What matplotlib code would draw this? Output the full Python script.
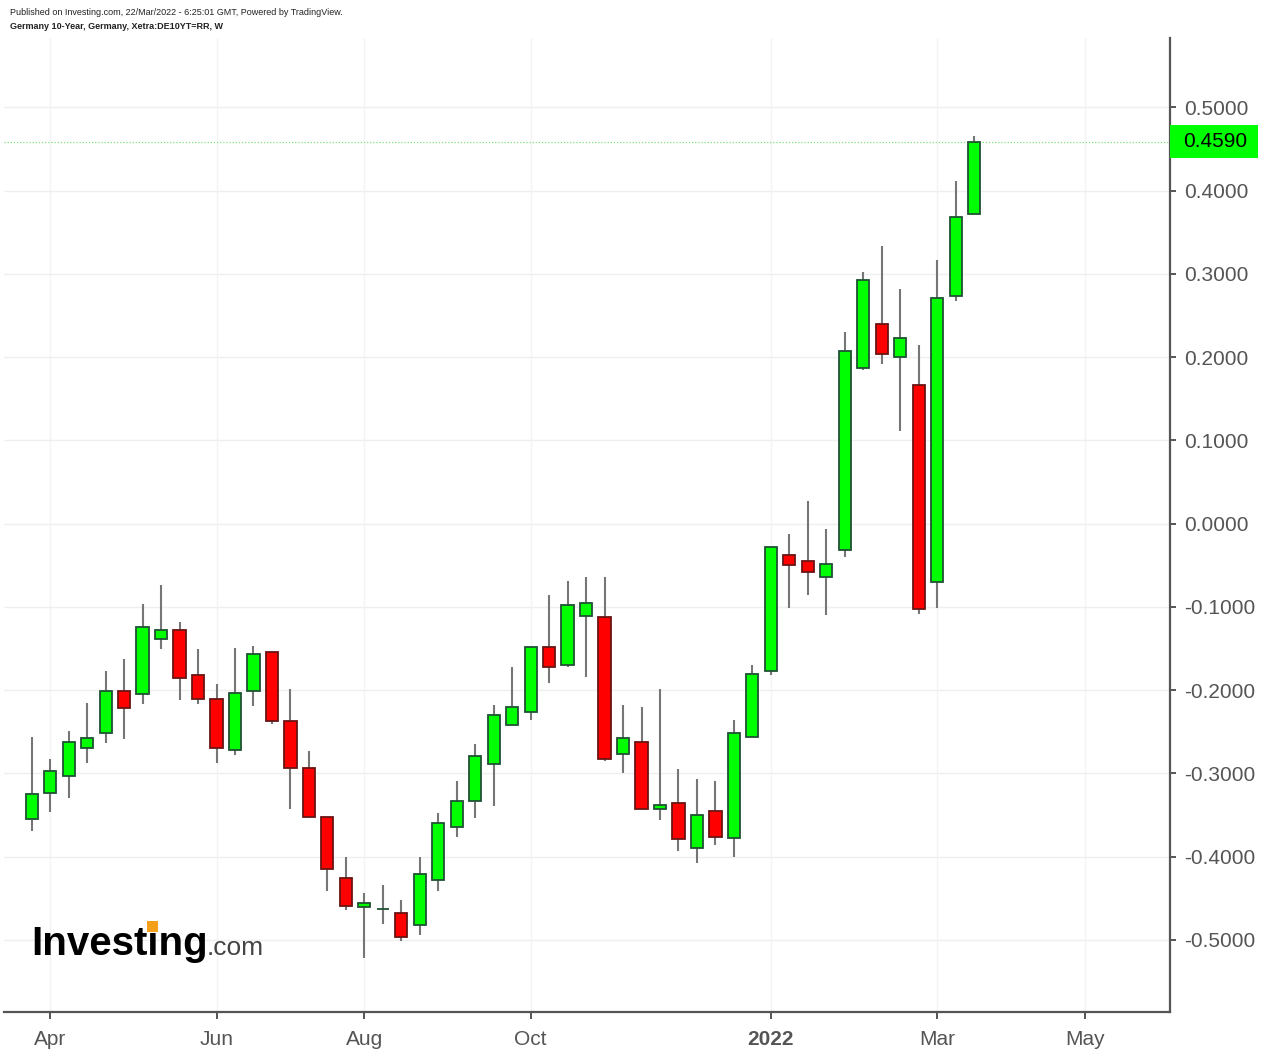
import matplotlib
matplotlib.use("Agg")
import matplotlib.pyplot as plt
import matplotlib.patches as patches
import matplotlib.transforms as mtransforms
import numpy as np
import pandas as pd

plt.rcParams["font.family"] = ["Liberation Sans", "DejaVu Sans"]

# weekly bars, Germany 10Y yield
start_week = "2021-03-29"
opens = [-0.3546, -0.3235, -0.303, -0.270, -0.251, -0.201, -0.204, -0.138, -0.128, -0.182,
         -0.211, -0.272, -0.201, -0.1546, -0.2366, -0.293, -0.3526, -0.4255, -0.4606, -0.4628,
         -0.467, -0.4825, -0.428, -0.3645, -0.3331, -0.2892, -0.2421, -0.2257, -0.1475, -0.1695,
         -0.1104, -0.1124, -0.2772, -0.2625, -0.3427, -0.3355, -0.3894, -0.3447, -0.3778, -0.2557,
         -0.1765, -0.0372, -0.0444, -0.0641, -0.0321, 0.1876, 0.2401, 0.2000, 0.1671, -0.0697,
         0.2733, 0.3719]
highs = [-0.256, -0.283, -0.249, -0.215, -0.1765, -0.163, -0.097, -0.074, -0.118, -0.151,
         -0.193, -0.149, -0.1466, -0.1546, -0.198, -0.273, -0.3526, -0.4008, -0.443, -0.4335,
         -0.452, -0.4008, -0.347, -0.309, -0.264, -0.2174, -0.1723, -0.1475, -0.0856, -0.0689,
         -0.064, -0.064, -0.2174, -0.2198, -0.1982, -0.2952, -0.3068, -0.3088, -0.2361, -0.1699,
         -0.0278, -0.0128, 0.0269, -0.0068, 0.2297, 0.3022, 0.3335, 0.2814, 0.2152, 0.3166,
         0.4112, 0.4661]
lows = [-0.369, -0.346, -0.329, -0.287, -0.263, -0.259, -0.217, -0.151, -0.212, -0.217,
        -0.287, -0.278, -0.219, -0.240, -0.343, -0.352, -0.4406, -0.4637, -0.522, -0.4805,
        -0.5016, -0.4944, -0.4406, -0.3765, -0.3535, -0.339, -0.2421, -0.2357, -0.191, -0.1727,
        -0.1838, -0.2848, -0.2992, -0.3431, -0.3555, -0.393, -0.4074, -0.3862, -0.4002, -0.2557,
        -0.1816, -0.1017, -0.0855, -0.1102, -0.0401, 0.1852, 0.192, 0.1114, -0.1082, -0.101,
        0.2677, 0.3719]
closes = [-0.325, -0.2976, -0.262, -0.257, -0.2008, -0.221, -0.1235, -0.128, -0.185, -0.211,
          -0.270, -0.2036, -0.157, -0.237, -0.2936, -0.352, -0.4143, -0.4586, -0.4554, -0.4622,
          -0.4964, -0.4207, -0.3598, -0.3335, -0.2792, -0.2297, -0.2206, -0.1475, -0.1719, -0.098,
          -0.0956, -0.2824, -0.2577, -0.3431, -0.3379, -0.3782, -0.3499, -0.3758, -0.2509, -0.1806,
          -0.0278, -0.0496, -0.0585, -0.0481, 0.2076, 0.2922, 0.2044, 0.2236, -0.103, 0.2709,
          0.3679, 0.4590]
last_price = 0.4590

tick_dates = ["2021-04-05", "2021-06-07", "2021-08-02", "2021-10-04",
              "2022-01-03", "2022-03-07", "2022-05-02"]
tick_labels = ["Apr", "Jun", "Aug", "Oct", "2022", "Mar", "May"]
y_ticks = [-0.5, -0.4, -0.3, -0.2, -0.1, 0.0, 0.1, 0.2, 0.3, 0.4, 0.5]

W, H = 1270, 1064
fig = plt.figure(figsize=(W / 100, H / 100), dpi=100)
ax = fig.add_axes([4 / W, (H - 1012) / H, (1170 - 4) / W, (1012 - 38) / H])

x = np.arange(len(opens))
o = np.array(opens)
c = np.array(closes)
up = c >= o
body_lo = np.minimum(o, c)
body_h = np.maximum(np.abs(c - o), 0.0006)

ax.vlines(x, lows, highs, color="#767676", lw=1.5, zorder=2)
ax.bar(x[up], body_h[up], bottom=body_lo[up], width=0.66,
       color="#00ff00", edgecolor="#1f5234", linewidth=1.3, zorder=3)
ax.bar(x[~up], body_h[~up], bottom=body_lo[~up], width=0.66,
       color="#ff0000", edgecolor="#6a1515", linewidth=1.3, zorder=3)

# tick positions from week index
t0 = pd.Timestamp(start_week)
tick_pos = [(pd.Timestamp(d) - t0).days / 7 for d in tick_dates]

ax.set_xlim(-1.5, 61.6)
ax.set_ylim(-0.5865, 0.5834)

ax.axhline(last_price, color="#7ee07e", lw=0.9, ls=(0, (1, 1.5)), zorder=1)

ax.set_xticks(tick_pos)
ax.set_xticklabels(tick_labels)
ax.set_yticks(y_ticks)
ax.set_yticklabels([f"{v:.4f}" if abs(v) > 1e-9 else "0.0000" for v in y_ticks])
ax.yaxis.tick_right()
ax.grid(True, axis="y", color="#efefef", lw=1.0, zorder=0)
ax.grid(True, axis="x", color="#f4f4f4", lw=1.0, zorder=0)
ax.set_axisbelow(True)

for s in ["top", "left"]:
    ax.spines[s].set_visible(False)
for s in ["right", "bottom"]:
    ax.spines[s].set_color("#555555")
    ax.spines[s].set_linewidth(1.6)

ax.tick_params(axis="y", length=4, width=1.4, color="#555555", pad=6,
               labelsize=15, labelcolor="#555555")
ax.tick_params(axis="x", length=5, width=1.4, color="#555555", pad=8,
               labelsize=15, labelcolor="#555555")
for lbl in ax.get_xticklabels():
    if lbl.get_text() == "2022":
        lbl.set_fontweight("bold")

# last price label on the right axis
blend = mtransforms.blended_transform_factory(ax.transAxes, ax.transData)
box_h = 33 / 832.6
ax.add_patch(patches.Rectangle((1.0, last_price - box_h / 2), 88 / 1166, box_h,
                               transform=blend, facecolor="#00ff00", edgecolor="none",
                               clip_on=False, zorder=5))
ax.text(1.0 + 13 / 1166, last_price, f"{last_price:.4f}", transform=blend,
        ha="left", va="center", fontsize=15, color="black", zorder=6, clip_on=False)

# header
fig.text(10 / W, 1 - 15 / H,
         "Published on Investing.com, 22/Mar/2022 - 6:25:01 GMT, Powered by TradingView.",
         fontsize=6.5, color="#222222", va="baseline")
fig.text(10 / W, 1 - 29 / H, "Germany 10-Year, Germany, Xetra:DE10YT=RR, W",
         fontsize=6.5, fontweight="bold", color="#222222", va="baseline")

# watermark
fig.text(31 / W, 1 - 955 / H, "Investing", fontsize=29, fontweight="bold",
         color="black", va="baseline")
fig.text(207 / W, 1 - 955 / H, ".com", fontsize=19, color="#444444", va="baseline")
fig.add_artist(patches.Rectangle((147 / W, 1 - 932 / H), 11 / W, 11 / H,
                                 transform=fig.transFigure, facecolor="#f5a01a",
                                 edgecolor="none", zorder=10))

fig.savefig("out.png", dpi=100)
